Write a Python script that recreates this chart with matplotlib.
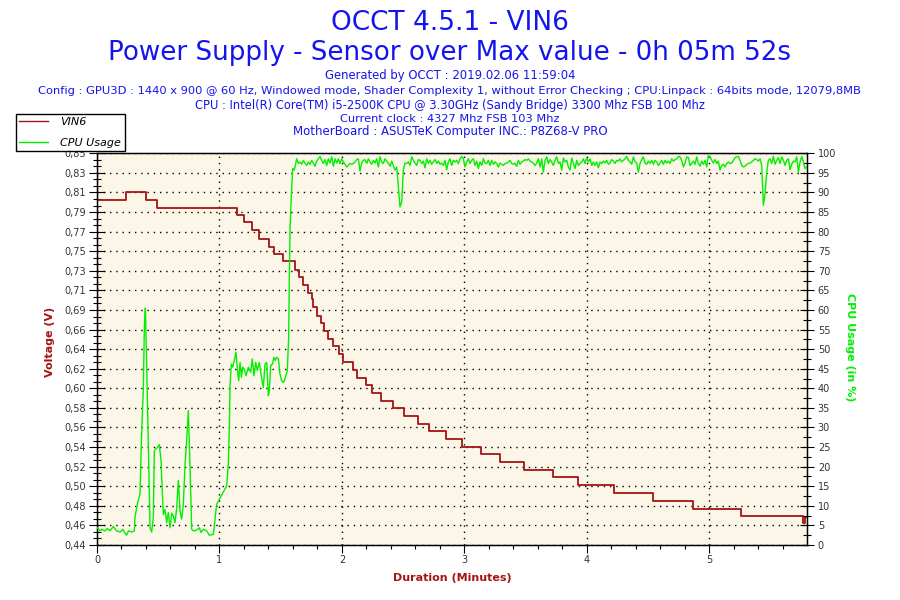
import numpy as np
import matplotlib
matplotlib.use("Agg")
import matplotlib.pyplot as plt
from matplotlib.ticker import FixedLocator, MultipleLocator, AutoMinorLocator
from matplotlib.lines import Line2D

plt.rcParams['font.family'] = ['DejaVu Sans']

# ---------------- data ----------------
title_lines = [
    "OCCT 4.5.1 - VIN6",
    "Power Supply - Sensor over Max value - 0h 05m 52s",
]
info_lines = [
    "Generated by OCCT : 2019.02.06 11:59:04",
    "Config : GPU3D : 1440 x 900 @ 60 Hz, Windowed mode, Shader Complexity 1, without Error Checking ; CPU:Linpack : 64bits mode, 12079,8MB",
    "CPU : Intel(R) Core(TM) i5-2500K CPU @ 3.30GHz (Sandy Bridge) 3300 Mhz FSB 100 Mhz",
    "Current clock : 4327 Mhz FSB 103 Mhz",
    "MotherBoard : ASUSTeK Computer INC.: P8Z68-V PRO",
]

# VIN6 voltage (step changes): time in minutes, value in volts
volt_t = [0.000, 0.234, 0.398, 0.493, 1.141, 1.201, 1.269, 1.321, 1.408, 1.444,
          1.517, 1.618, 1.650, 1.683, 1.721, 1.754, 1.762, 1.797, 1.828, 1.857,
          1.887, 1.928, 1.977, 2.012, 2.089, 2.124, 2.198, 2.249, 2.315, 2.421,
          2.508, 2.625, 2.715, 2.851, 2.982, 3.137, 3.292, 3.489, 3.725, 3.930,
          4.218, 4.540, 4.867, 5.261, 5.762, 5.785, 5.795]
volt_v = [0.801, 0.809, 0.801, 0.793, 0.785, 0.778, 0.770, 0.760, 0.752, 0.745,
          0.737, 0.728, 0.721, 0.712, 0.704, 0.698, 0.689, 0.680, 0.672, 0.664,
          0.656, 0.648, 0.640, 0.632, 0.623, 0.615, 0.607, 0.599, 0.591, 0.583,
          0.575, 0.567, 0.559, 0.551, 0.543, 0.535, 0.527, 0.518, 0.511, 0.503,
          0.494, 0.486, 0.478, 0.470, 0.463, 0.469, 0.469]

# CPU usage, first part (time in minutes, usage in %)
cpu_t_early = [0.003, 0.025, 0.038, 0.065, 0.084, 0.106, 0.133, 0.161, 0.188, 0.210,
               0.229, 0.242, 0.256, 0.283, 0.305, 0.310, 0.329, 0.351, 0.365, 0.378,
               0.387, 0.395, 0.406, 0.419, 0.433, 0.446, 0.460, 0.468, 0.479, 0.493,
               0.509, 0.523, 0.533, 0.542, 0.555, 0.569, 0.582, 0.596, 0.610, 0.623,
               0.637, 0.651, 0.664, 0.678, 0.691, 0.705, 0.719, 0.732, 0.746, 0.759,
               0.773, 0.787, 0.814, 0.836, 0.849, 0.868, 0.896, 0.917, 0.950, 0.964,
               0.977, 1.059, 1.072, 1.081, 1.086, 1.097, 1.108, 1.121, 1.135, 1.146,
               1.157, 1.168, 1.179, 1.190, 1.203, 1.217, 1.236, 1.255, 1.268, 1.282,
               1.296, 1.309, 1.326, 1.345, 1.358, 1.372, 1.386, 1.399, 1.407, 1.418,
               1.432, 1.445, 1.456, 1.467, 1.481, 1.494, 1.508, 1.522, 1.535, 1.554,
               1.565, 1.570, 1.577, 1.590, 1.598, 1.609, 1.617]
cpu_v_early = [4.4, 3.6, 4.0, 3.6, 4.2, 3.6, 4.7, 3.6, 3.3, 4.0,
               3.0, 2.5, 3.6, 3.3, 3.6, 7.0, 10.4, 13.0, 29.2, 39.4,
               56.0, 60.5, 45.4, 26.2, 4.4, 3.3, 7.0, 24.0, 24.5, 24.9,
               25.6, 21.5, 13.8, 7.8, 9.1, 5.7, 8.3, 4.4, 8.1, 7.4,
               5.7, 9.5, 16.5, 8.7, 6.6, 10.4, 20.6, 26.6, 34.3, 20.6,
               4.0, 3.6, 3.8, 4.4, 3.2, 4.0, 3.6, 2.5, 2.7, 6.6,
               10.4, 15.1, 20.6, 30.4, 40.7, 46.2, 45.4, 47.1, 49.2, 44.9,
               41.9, 46.6, 42.8, 45.4, 44.9, 43.2, 45.4, 44.1, 47.5, 43.2,
               46.6, 44.5, 46.6, 42.4, 40.2, 46.2, 46.6, 38.1, 39.4, 45.8,
               46.2, 47.9, 47.1, 47.9, 47.5, 43.6, 41.9, 41.5, 42.4, 44.5,
               53.0, 67.5, 81.6, 91.4, 96.1, 95.7, 96.5]

# CPU usage, full-load part: regular samples starting at plateau_start (minutes)
plateau_start = 1.6305
plateau_step = 0.01361
cpu_v_plateau = [
    98.6, 97.4, 97.8, 97.2, 98.2, 97.5, 96.9, 97.8, 97.2, 98.2,
    97.5, 96.7, 98.0, 98.6, 99.2, 98.2, 97.4, 98.4, 96.9, 98.6,
    97.5, 99.1, 96.7, 98.6, 97.5, 98.6, 97.4, 98.6, 97.8, 97.2,
    96.5, 96.9, 97.4, 97.2, 97.4, 97.8, 98.4, 98.6, 95.5, 97.5,
    98.2, 98.4, 97.4, 98.6, 97.8, 97.2, 98.2, 97.5, 98.6, 96.5,
    99.1, 97.8, 97.4, 98.6, 98.0, 97.5, 96.7, 98.0, 96.9, 95.7,
    96.5, 91.4, 86.3, 87.6, 95.7, 97.5, 97.4, 97.8, 96.9, 99.1,
    98.2, 97.5, 96.9, 98.4, 98.2, 97.4, 98.0, 96.3, 98.6, 97.4,
    98.2, 97.2, 97.8, 98.4, 97.4, 98.0, 97.2, 97.5, 96.9, 98.2,
    95.8, 97.8, 98.6, 96.9, 98.2, 97.8, 98.2, 97.4, 98.6, 99.2,
    98.6, 96.5, 97.8, 98.6, 97.4, 98.2, 98.6, 96.9, 98.0, 96.1,
    97.8, 96.9, 98.6, 97.5, 97.4, 98.2, 96.9, 98.2, 97.2, 97.8,
    97.4, 96.5, 97.5, 97.2, 96.9, 97.4, 97.5, 97.8, 98.2, 97.4,
    97.2, 97.5, 96.7, 98.2, 97.2, 97.8, 98.0, 98.4, 98.2, 98.6,
    98.0, 97.8, 97.4, 96.9, 97.5, 98.6, 96.5, 98.6, 95.2, 98.2,
    99.1, 97.4, 98.4, 97.8, 96.9, 98.2, 99.1, 97.4, 97.8,
    95.7, 98.8, 97.8, 98.2, 96.5, 95.7, 98.8, 97.4, 96.1, 98.2,
    96.9, 97.4, 97.8, 98.6, 97.4, 98.8, 97.8, 98.6, 96.9, 97.8,
    96.9, 97.8, 96.3,
    97.8, 97.4, 98.0, 97.5, 98.2, 97.2, 97.5, 98.4, 98.0, 97.4,
    98.2, 98.0, 98.6, 97.8, 98.2, 98.6, 99.2, 98.2, 97.8, 97.2,
    99.1, 97.8, 97.5, 95.2, 97.4, 98.4, 99.1, 97.5, 97.2, 98.0,
    97.4, 98.2, 97.2, 98.2, 97.8, 96.9, 97.5, 98.2, 97.2, 98.2,
    97.5, 98.0, 97.4, 98.6, 98.0, 98.4, 98.6, 99.2, 99.1, 98.2,
    96.5, 97.5, 99.1, 98.9, 96.9, 97.4, 98.0, 97.2, 99.1, 97.4,
    96.7, 98.0, 97.2, 98.2, 96.5, 99.5, 99.1, 98.2, 97.5, 98.4,
    97.4, 98.0, 95.7, 96.9, 97.2, 96.5, 97.4, 97.8, 97.4, 97.5,
    98.2, 98.9, 99.1, 99.2, 98.2, 96.9, 96.5, 96.7, 97.2, 97.4,
    97.5, 97.8, 98.2, 98.6, 98.4, 98.0, 98.6, 96.9, 86.7, 89.7,
    95.2, 98.2, 98.6, 97.4, 99.2, 97.2, 98.2, 98.9, 97.4, 99.1,
    98.2, 96.9, 98.2, 98.6, 95.8, 97.2, 98.0, 97.8, 99.1, 95.2,
    97.8, 99.2, 97.8, 96.1, 96.5,
]

v_min, v_max = 0.44, 0.85
v_tick_labels = ["0,44", "0,46", "0,48", "0,50", "0,52", "0,54", "0,56", "0,58",
                 "0,60", "0,62", "0,64", "0,66", "0,69", "0,71", "0,73", "0,75",
                 "0,77", "0,79", "0,81", "0,83", "0,85"]
x_max = 5.795

# ---------------- figure ----------------
W, H = 900, 600
fig = plt.figure(figsize=(W / 100, H / 100), dpi=100)
fig.patch.set_facecolor('white')

ax_l, ax_r, ax_t, ax_b = 97, 806.7, 153.3, 545
ax = fig.add_axes([ax_l / W, 1 - ax_b / H, (ax_r - ax_l) / W, (ax_b - ax_t) / H])
ax.set_facecolor('#FCF6E8')

red = '#A31515'
green = '#00F000'
blue = '#1414EE'
tickc = '#333333'

ax.plot(volt_t, volt_v, drawstyle='steps-post', color=red, lw=1.3, zorder=3)
ax.set_xlim(0, x_max)
ax.set_ylim(v_min, v_max)

yt = np.linspace(v_min, v_max, len(v_tick_labels))
ax.yaxis.set_major_locator(FixedLocator(yt))
ax.set_yticklabels(v_tick_labels)
ax.yaxis.set_minor_locator(AutoMinorLocator(3))
ax.xaxis.set_major_locator(MultipleLocator(1))
ax.xaxis.set_minor_locator(MultipleLocator(0.2))

ax.tick_params(axis='y', which='major', direction='inout', length=12, width=0.8,
               labelsize=7, labelcolor=tickc, pad=2)
ax.tick_params(axis='y', which='minor', direction='inout', length=6, width=0.8)
ax.tick_params(axis='x', which='major', direction='out', length=6, width=0.8,
               labelsize=7, labelcolor=tickc, pad=1.5)
ax.tick_params(axis='x', which='minor', direction='out', length=3, width=0.8)
ax.grid(True, which='major', color='black', linestyle=(0, (1, 3.5)), lw=1.0)
for s in ax.spines.values():
    s.set_linewidth(1.0)

ax2 = ax.twinx()
cpu_t_plateau = plateau_start + plateau_step * np.arange(len(cpu_v_plateau))
cpu_t = np.concatenate([cpu_t_early, cpu_t_plateau])
cpu_v = np.concatenate([cpu_v_early, cpu_v_plateau])
ax2.plot(cpu_t, cpu_v, color=green, lw=1.0, zorder=4)
ax2.set_ylim(0, 100)
ax2.set_xlim(0, x_max)
ax2.yaxis.set_major_locator(MultipleLocator(5))
ax2.yaxis.set_minor_locator(MultipleLocator(2.5))
ax2.tick_params(axis='y', which='major', direction='inout', length=10, width=0.8,
                labelsize=7, labelcolor=tickc, pad=3)
ax2.tick_params(axis='y', which='minor', direction='inout', length=6, width=0.8)

# axis titles
ax.text(-0.066, 0.518, "Voltage (V)", transform=ax.transAxes, rotation=90,
        ha='center', va='center', color=red, fontsize=8, fontweight='bold')
ax.text(1.061, 0.504, "CPU Usage (in %)", transform=ax.transAxes, rotation=270,
        ha='center', va='center', color=green, fontsize=8, fontweight='bold')
ax.text(0.5, -0.084, "Duration (Minutes)", transform=ax.transAxes,
        ha='center', va='center', color=red, fontsize=8, fontweight='bold')

# header text
renderer = fig.canvas.get_renderer()

def fit_text(y_base, s, target_w, size0, **kw):
    t = fig.text(0.5, 1 - y_base / H, s, ha='center', va='baseline',
                 fontsize=size0, color=blue, **kw)
    w = t.get_window_extent(renderer).width
    t.set_fontsize(size0 * target_w / w)
    return t

fit_text(30, title_lines[0], 238, 18)
fit_text(59.5, title_lines[1], 682, 18)
info_w = [248, 826, 513, 221, 315]
info_y = [79.5, 94.5, 108.5, 122.5, 135.5]
for s, w, y in zip(info_lines, info_w, info_y):
    fit_text(y, s, w, 7)

# legend
handles = [Line2D([], [], color=red, lw=1.0), Line2D([], [], color=green, lw=1.0)]
leg = fig.legend(handles, ["VIN6", "CPU Usage"], loc='upper left',
                 bbox_to_anchor=(16 / W, 1 - 114 / H), borderaxespad=0,
                 frameon=True, fancybox=False, edgecolor='black', framealpha=1,
                 borderpad=0.3, handlelength=2.6, handletextpad=1.1,
                 labelspacing=0.95, prop={'style': 'italic', 'size': 8})
leg.get_frame().set_linewidth(1.0)
leg.set_zorder(10)

fig.savefig("out.png", dpi=100, facecolor='white')
